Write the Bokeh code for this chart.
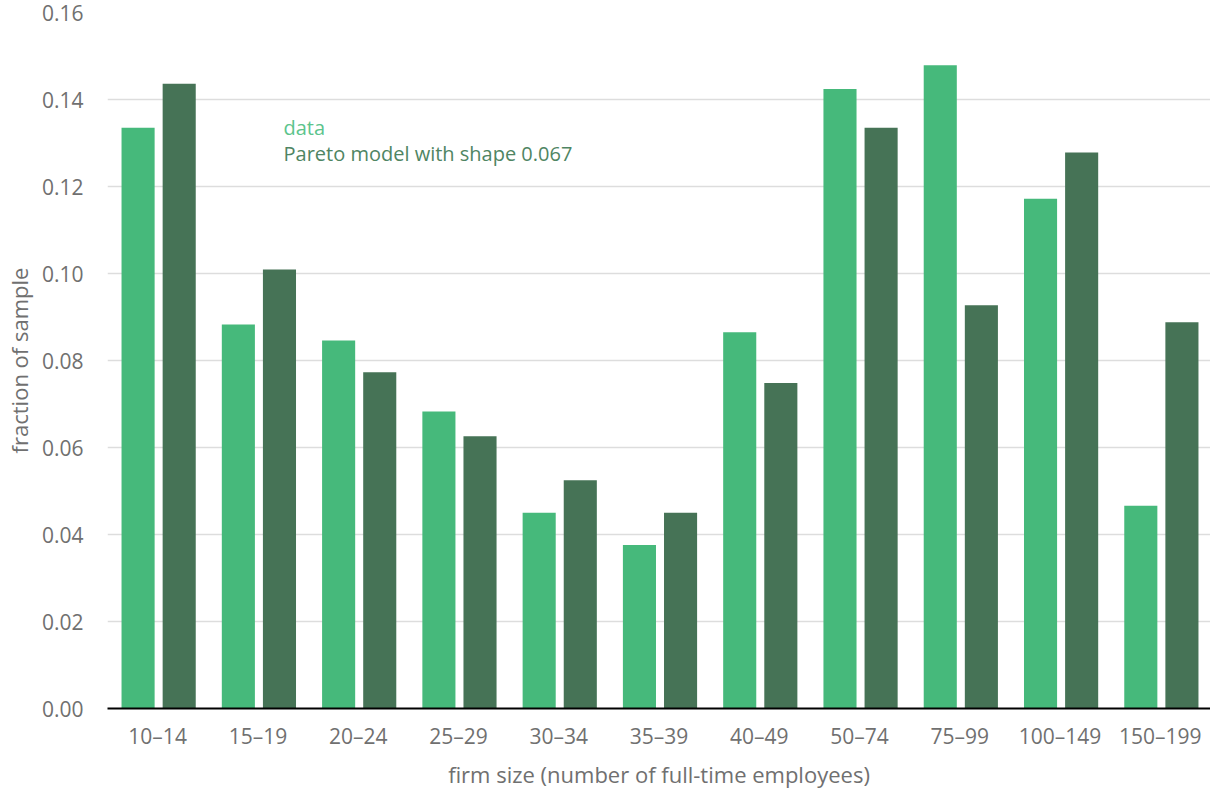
from bokeh.plotting import figure
from bokeh.models import FactorRange, Label, SingleIntervalTicker, NumeralTickFormatter
from bokeh.transform import dodge
from bokeh.embed import file_html
from bokeh.resources import INLINE

categories = ["10–14", "15–19", "20–24", "25–29", "30–34", "35–39", "40–49",
              "50–74", "75–99", "100–149", "150–199"]
data_values = [0.1335, 0.0883, 0.0846, 0.0683, 0.0450, 0.0376, 0.0865,
               0.1424, 0.1479, 0.1172, 0.0466]
model_values = [0.1436, 0.1009, 0.0773, 0.0626, 0.0525, 0.0450, 0.0748,
                0.1335, 0.0927, 0.1278, 0.0888]

LIGHT = "#46b97b"
DARK = "#467356"
TEXT = "#707070"
FONT = "Open Sans"

p = figure(x_range=FactorRange(*categories, range_padding=0), y_range=(0, 0.16),
           width=1210, height=791, output_backend="svg", toolbar_location=None,
           min_border_left=107, min_border_right=0, min_border_top=12, min_border_bottom=81)
p.outline_line_color = None

src = dict(cat=categories, d=data_values, m=model_values)
p.vbar(x=dodge("cat", -0.195, range=p.x_range), top="d", width=0.33, bottom=0,
       source=src, fill_color=LIGHT, line_color=None)
p.vbar(x=dodge("cat", 0.215, range=p.x_range), top="m", width=0.33, bottom=0,
       source=src, fill_color=DARK, line_color=None)

p.yaxis.ticker = SingleIntervalTicker(interval=0.02)
p.yaxis.formatter = NumeralTickFormatter(format="0.00")
p.yaxis.axis_line_color = None
p.yaxis.major_tick_line_color = None
p.yaxis.minor_tick_line_color = None
p.yaxis.major_label_standoff = 18
p.yaxis.axis_label = "fraction of sample"
p.yaxis.axis_label_standoff = 5

p.xaxis.axis_line_color = "black"
p.xaxis.axis_line_width = 2
p.xaxis.major_tick_line_color = None
p.xaxis.minor_tick_line_color = None
p.xaxis.major_label_standoff = 7
p.xaxis.axis_label = "firm size (number of full-time employees)"
p.xaxis.axis_label_standoff = 6

for ax in (p.xaxis[0], p.yaxis[0]):
    ax.major_label_text_font = FONT
    ax.major_label_text_font_size = "21px"
    ax.major_label_text_color = TEXT
    ax.axis_label_text_font = FONT
    ax.axis_label_text_font_size = "22px"
    ax.axis_label_text_font_style = "normal"
    ax.axis_label_text_color = TEXT

p.xgrid.grid_line_color = None
p.ygrid.grid_line_color = "#dddddd"
p.ygrid.grid_line_width = 1.5

p.add_layout(Label(x=176, y=0.1335, x_units="screen", text="data",
                   text_font=FONT, text_font_size="20px", text_color="#5cc48c",
                   text_baseline="middle"))
p.add_layout(Label(x=176, y=0.1275, x_units="screen", text="Pareto model with shape 0.067",
                   text_font=FONT, text_font_size="20px", text_color="#4f8563",
                   text_baseline="middle"))

open("out.html", "w").write(file_html(p, INLINE))
